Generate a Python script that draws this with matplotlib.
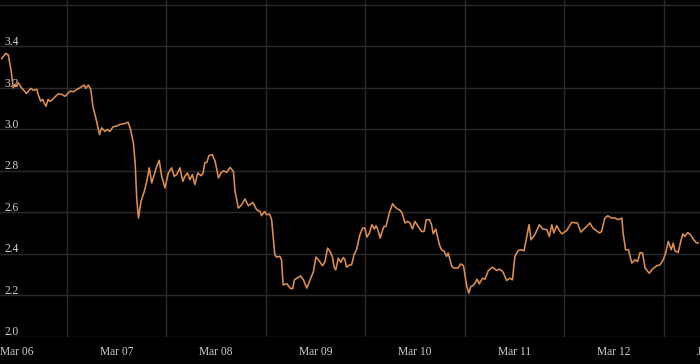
import matplotlib
matplotlib.use("Agg")
import matplotlib.pyplot as plt
from matplotlib.transforms import blended_transform_factory

# hours since Mar 06 00:00 and the plotted value
HOURS = [
    -3.7, -2.7, -2.1, -1.4, -0.9, -0.5, -0.1, 0.3, 1.1, 2.3, 3.3, 3.9, 4.8, 5.1,
    5.7, 6.2, 6.5, 7.0, 7.5, 8.0, 8.6, 9.2, 10.0, 10.8, 11.6, 12.2, 12.8, 13.7,
    14.4, 15.2, 16.2, 16.6, 17.2, 17.8, 18.3, 19.1, 19.9, 20.4, 21.2, 21.8, 22.4,
    23.2, 24.0, 24.8, 26.1, 26.8, 27.4, 28.1, 28.5, 28.9, 29.3, 29.9, 30.7, 31.3,
    31.9, 32.5, 33.1, 33.7, 34.3, 34.9, 35.7, 36.5, 37.3, 37.9, 38.5, 39.3, 40.0,
    40.5, 41.1, 41.7, 42.3, 42.9, 43.6, 44.4, 44.9, 45.3, 45.8, 46.3, 47.1, 47.8,
    48.6, 49.2, 49.8, 50.6, 51.4, 52.2, 52.6, 53.4, 54.2, 55.0, 55.8, 56.9, 57.8,
    58.6, 59.0, 59.7, 60.2, 60.9, 61.4, 62.2, 62.6, 63.4, 63.8, 64.2, 65.1, 65.9,
    66.5, 66.9, 67.9, 68.4, 69.1, 69.9, 70.7, 71.5, 72.1, 72.7, 73.7, 74.3, 74.9,
    75.5, 76.1, 76.5, 76.9, 77.5, 78.1, 78.7, 79.1, 79.5, 80.2, 80.7, 81.3, 81.9,
    82.7, 83.4, 83.9, 84.4, 85.0, 85.6, 86.2, 86.6, 87.0, 87.6, 88.0, 88.5, 89.0,
    89.8, 90.6, 91.2, 91.8, 92.4, 92.9, 93.6, 94.2, 94.8, 95.4, 96.0, 96.8, 97.6,
    98.2, 98.7, 99.5, 100.0, 100.4, 101.0, 101.9, 102.4, 103.1, 103.6, 104.0,
    104.9, 105.4, 106.4, 107.0, 107.7, 108.5, 109.0, 109.4, 110.2, 111.0, 111.5,
    112.3, 112.9, 113.7, 114.7, 115.7, 116.3, 116.9, 117.3, 118.1, 118.9, 119.5,
    120.1, 120.9, 121.7, 122.3, 122.9, 123.5, 124.0, 124.9, 126.0, 126.8, 127.8,
    128.4, 129.0, 129.5, 130.2, 130.8, 131.4, 132.6, 133.8, 135.2, 136.0, 136.6,
    137.4, 138.2, 138.9, 139.7, 140.5, 141.0, 141.8, 142.5, 143.4, 144.2, 145.0,
    145.9, 146.2, 146.8, 147.5, 148.3, 149.1, 149.7, 150.3, 150.9, 151.5, 152.5,
    153.3, 154.3, 155.1, 155.9, 156.5, 157.1, 157.8, 158.3, 158.7, 159.5, 160.1,
    160.6, 161.1, 161.8, 162.5, 163.1, 163.8, 164.3,
]
VALUES = [
    3.340, 3.366, 3.358, 3.280, 3.200, 3.216, 3.208, 3.224, 3.200, 3.172, 3.197,
    3.188, 3.192, 3.168, 3.135, 3.144, 3.128, 3.111, 3.144, 3.134, 3.144, 3.157,
    3.171, 3.168, 3.159, 3.171, 3.184, 3.181, 3.192, 3.200, 3.213, 3.197, 3.213,
    3.192, 3.111, 3.047, 2.974, 3.007, 2.990, 2.999, 2.990, 3.012, 3.015, 3.023,
    3.028, 3.034, 2.999, 2.930, 2.838, 2.660, 2.572, 2.652, 2.700, 2.749, 2.814,
    2.741, 2.781, 2.821, 2.850, 2.773, 2.717, 2.789, 2.814, 2.773, 2.781, 2.814,
    2.749, 2.773, 2.789, 2.757, 2.781, 2.733, 2.789, 2.776, 2.789, 2.838, 2.841,
    2.873, 2.878, 2.845, 2.765, 2.789, 2.800, 2.792, 2.816, 2.797, 2.700, 2.620,
    2.636, 2.664, 2.631, 2.647, 2.612, 2.604, 2.583, 2.604, 2.588, 2.591, 2.567,
    2.395, 2.384, 2.387, 2.371, 2.250, 2.255, 2.234, 2.231, 2.274, 2.287, 2.293,
    2.274, 2.234, 2.274, 2.314, 2.384, 2.371, 2.342, 2.362, 2.427, 2.411, 2.384,
    2.335, 2.322, 2.379, 2.358, 2.382, 2.371, 2.335, 2.346, 2.346, 2.395, 2.419,
    2.491, 2.524, 2.524, 2.480, 2.500, 2.540, 2.519, 2.535, 2.519, 2.475, 2.502,
    2.531, 2.531, 2.596, 2.641, 2.625, 2.616, 2.609, 2.596, 2.548, 2.556, 2.548,
    2.519, 2.556, 2.531, 2.507, 2.507, 2.564, 2.564, 2.540, 2.496, 2.519, 2.443,
    2.419, 2.411, 2.387, 2.403, 2.338, 2.331, 2.331, 2.351, 2.342, 2.242, 2.210,
    2.239, 2.250, 2.277, 2.255, 2.282, 2.277, 2.319, 2.335, 2.319, 2.326, 2.319,
    2.309, 2.271, 2.282, 2.274, 2.387, 2.416, 2.419, 2.414, 2.475, 2.540, 2.467,
    2.491, 2.540, 2.519, 2.516, 2.483, 2.540, 2.500, 2.535, 2.512, 2.496, 2.512,
    2.551, 2.548, 2.504, 2.516, 2.531, 2.548, 2.524, 2.512, 2.500, 2.507, 2.572,
    2.583, 2.572, 2.572, 2.564, 2.572, 2.500, 2.419, 2.419, 2.355, 2.371, 2.362,
    2.406, 2.403, 2.331, 2.306, 2.326, 2.342, 2.346, 2.371, 2.406, 2.459, 2.419,
    2.451, 2.414, 2.406, 2.459, 2.495, 2.483, 2.502, 2.491, 2.471, 2.454, 2.451,
]

DAY_TICKS = [0, 24, 48, 72, 96, 120, 144, 164.6]
DAY_LABELS = ["Mar 06", "Mar 07", "Mar 08", "Mar 09", "Mar 10", "Mar 11",
              "Mar 12", "J"]
GRID_X = [12, 36, 60, 84, 108, 132, 156]
Y_GRID = [2.0, 2.2, 2.4, 2.6, 2.8, 3.0, 3.2, 3.4, 3.6]
Y_LABELS = ["2.0", "2.2", "2.4", "2.6", "2.8", "3.0", "3.2", "3.4"]

BG = "#000000"
GRID = "#2a2a2a"
TEXT = "#cfcfcf"
LINE = "#dc8e4d"


def main() -> None:
    plt.rcParams.update({
        "font.family": ["Liberation Serif", "DejaVu Serif"],
        "font.size": 8.3,
        "savefig.bbox": "standard",
    })
    fig = plt.figure(figsize=(7.0, 3.64), dpi=100, facecolor=BG)
    ax = fig.add_axes([0.0, 0.075, 1.0, 0.925], facecolor=BG)

    ax.plot(HOURS, VALUES, color=LINE, linewidth=1.15, zorder=3,
            solid_joinstyle="round")

    ax.set_xlim(-4.1, 164.75)
    ax.set_ylim(2.0, 3.623)

    ax.set_xticks(DAY_TICKS, DAY_LABELS)
    ax.set_xticks(GRID_X, minor=True)
    ax.set_yticks(Y_GRID)
    ax.tick_params(axis="x", which="both", length=0, pad=7, colors=TEXT,
                   labelsize=8.3)
    ax.tick_params(axis="y", which="both", length=0, labelleft=False)
    ax.grid(False)
    ax.grid(True, axis="x", which="minor", color=GRID, linewidth=1.0)
    ax.grid(True, axis="y", which="major", color=GRID, linewidth=1.0)
    ax.set_axisbelow(True)
    for spine in ax.spines.values():
        spine.set_visible(False)

    trans = blended_transform_factory(ax.transAxes, ax.transData)
    for value, label in zip(Y_GRID, Y_LABELS):
        ax.text(0.007, value + 0.006, label, transform=trans, ha="left",
                va="baseline", color=TEXT, fontsize=8.3, zorder=2)

    fig.savefig("out.png", dpi=100, facecolor=BG)


if __name__ == "__main__":
    main()
